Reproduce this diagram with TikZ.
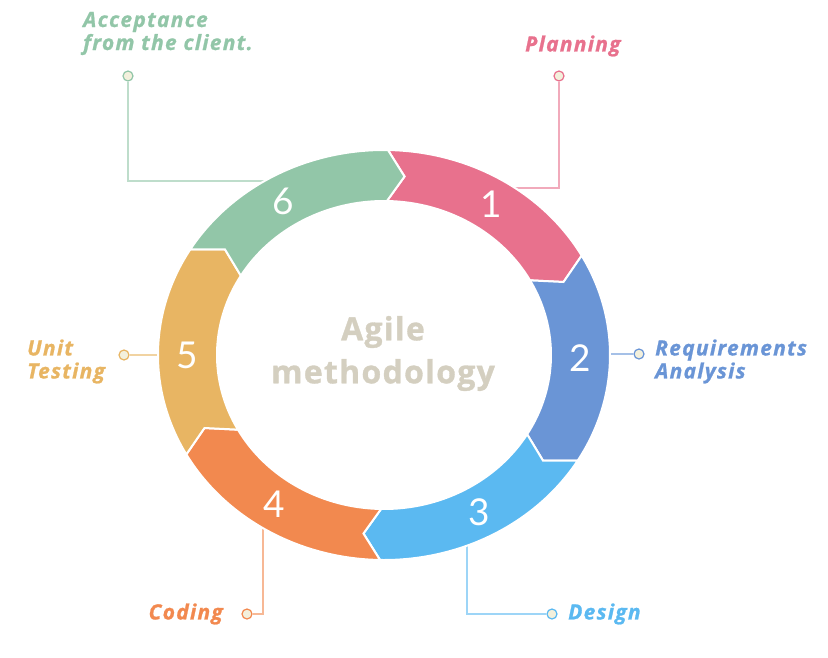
\documentclass[tikz,border=0pt]{standalone}
\usepackage{fontspec}
\setmainfont{Open Sans}
\newfontfamily\numfont{Lato}
\newfontfamily\lblfont[LetterSpace=6, FakeBold=1]{Open Sans}
\newfontfamily\titlefont[LetterSpace=4, FakeBold=1]{Open Sans}
\usepackage{tikz}
\definecolor{plan}{HTML}{E8718D}
\definecolor{req}{HTML}{6A95D6}
\definecolor{des}{HTML}{5BB9F1}
\definecolor{cod}{HTML}{F2894F}
\definecolor{uni}{HTML}{E8B563}
\definecolor{acc}{HTML}{92C6A8}
\definecolor{dotfill}{HTML}{F3F0DC}
\definecolor{titlegrey}{HTML}{D4CFC0}
\tikzstyle{dot}=[circle, inner sep=0pt, minimum size=10pt, fill=dotfill, line width=1.2pt]
\tikzstyle{num}=[text=white, inner sep=0pt, font=\numfont\fontsize{37}{37}\selectfont]
\tikzstyle{lbl}=[inner sep=0pt, align=left, font=\lblfont\fontsize{21}{23}\selectfont\bfseries\itshape]
\tikzstyle{wire}=[line width=1.3pt]
\begin{document}
\begin{tikzpicture}[x=1pt, y=1pt]
    \useasboundingbox (-384,-302) rectangle (444,355);
    \coordinate (p0) at (130,167);
    \coordinate (p1) at (175,167);
    \coordinate (r0) at (190,1);
    \coordinate (d0) at (83,-150);
    \coordinate (d1) at (83,-259);
    \coordinate (c0) at (-121,-150);
    \coordinate (c1) at (-121,-259);
    \coordinate (u0) at (-190,0);
    \coordinate (a0) at (-120,174);
    \coordinate (a1) at (-256,174);
    \node[dot, draw=plan] (pd) at (175,279) {};
    \node[dot, draw=req] (rd) at (255,1) {};
    \node[dot, draw=des] (dd) at (168,-259) {};
    \node[dot, draw=cod] (cd) at (-137,-259) {};
    \node[dot, draw=uni] (ud) at (-260,0) {};
    \node[dot, draw=acc] (ad) at (-256,279) {};
    \draw[wire, plan!60!white] (p0) -- (p1) -- (pd);
    \draw[wire, req!60!white] (r0) -- (rd);
    \draw[wire, des!60!white] (d0) -- (d1) -- (dd);
    \draw[wire, cod!60!white] (c0) -- (c1) -- (cd);
    \draw[wire, uni!60!white] (u0) -- (ud);
    \draw[wire, acc!60!white] (a0) -- (a1) -- (ad);
    \foreach \s/\c in {89/plan, 29/req, -31/des, -91/cod, -151/uni, 149/acc}
    {
      \pgfmathsetmacro\e{\s-60}
      \filldraw[fill=\c, draw=white, line width=2pt]
        (\s:226pt and 205pt) arc[start angle=\s, end angle=\e, x radius=226pt, y radius=205pt]
        -- (\e-5:196.5pt and 179.5pt) -- (\e:167pt and 154pt)
        arc[start angle=\e, end angle=\s, x radius=167pt, y radius=154pt]
        -- (\s-5:196.5pt and 179.5pt) -- cycle;
    }
    \node[num] (n1) at (57:196.5pt and 179.5pt) {1};
    \node[num] (n2) at (-1:196.5pt and 179.5pt) {2};
    \node[num] (n3) at (-61:196.5pt and 179.5pt) {3};
    \node[num] (n4) at (-124:196.5pt and 179.5pt) {4};
    \node[num] (n5) at (180:196.5pt and 179.5pt) {5};
    \node[num] (n6) at (121:196.5pt and 179.5pt) {6};
    \node[align=center, text=titlegrey, font=\titlefont\fontsize{32}{43}\selectfont\bfseries] (title) at (-1,1.5) {Agile\\methodology};
    \node[lbl, text=plan, anchor=west] (plan) at (141,309) {Planning};
    \node[lbl, text=req, anchor=west] (req) at (271,-6.5) {Requirements\\Analysis};
    \node[lbl, text=des, anchor=west] (des) at (184,-259) {Design};
    \node[lbl, text=cod, anchor=east] (cod) at (-161,-259) {Coding};
    \node[lbl, text=uni, anchor=west] (uni) at (-357,-6.5) {Unit\\Testing};
    \node[lbl, text=acc, anchor=west] (acc) at (-301,321.5) {Acceptance\\from the client.};
\end{tikzpicture}
\end{document}
